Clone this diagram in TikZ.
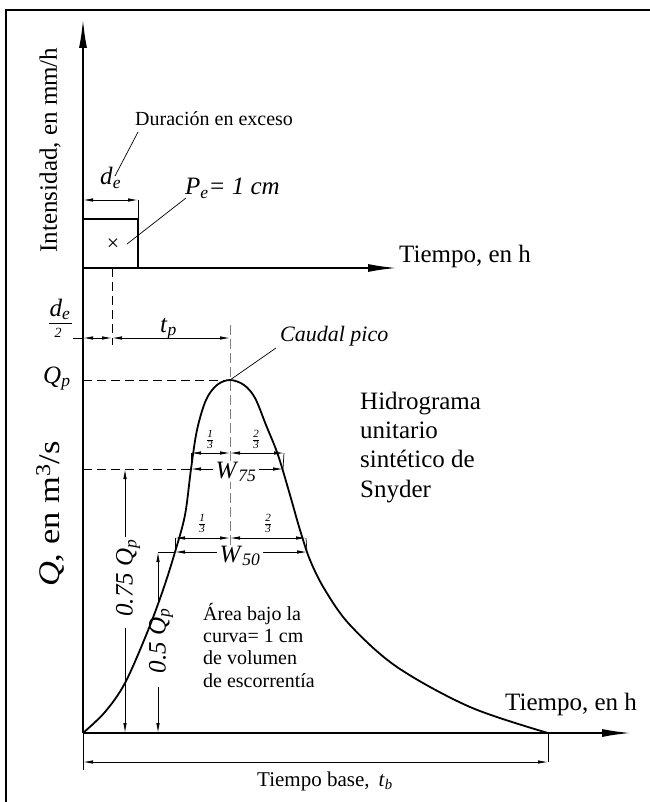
\documentclass[tikz,border=0pt]{standalone}
\usepackage{fontspec}
\setmainfont{Liberation Serif}
\usetikzlibrary{arrows.meta}
\newcommand{\myfr}[2]{\begin{tabular}{@{}c@{}}\textit{#1}\\[-1pt]\hline\noalign{\vskip 1pt}\textit{#2}\end{tabular}}
\tikzset{
  frameline/.style={line width=2.7pt},
  axisline/.style={line width=2.2pt, -{Latex[length=30pt,width=8pt]}},
  dimline/.style={line width=0.8pt, {Latex[length=10pt,width=3.5pt]}-{Latex[length=10pt,width=3.5pt]}},
  dimend/.style={line width=0.8pt, -{Latex[length=10pt,width=3.5pt]}},
  thinline/.style={line width=0.7pt},
  dashline/.style={line width=0.9pt, dash pattern=on 9pt off 5pt},
  centerline/.style={line width=1pt, gray, dash pattern=on 10pt off 4pt},
  curveline/.style={line width=1.8pt},
  bigtxt/.style={font=\fontsize{25}{30}\selectfont, inner sep=0pt},
  midtxt/.style={font=\fontsize{20}{23}\selectfont, inner sep=0pt},
  smalltxt/.style={font=\fontsize{11}{11}\selectfont, inner sep=0pt},
}
\begin{document}
\begin{tikzpicture}[x=1pt,y=-1pt]
\useasboundingbox (0,0) rectangle (649,802);
% frame
\coordinate (FBL) at (6,806);
\coordinate (FTL) at (6,10);
\coordinate (FTR) at (652,10);
\draw[frameline] (FBL) -- (FTL) -- (FTR);

% key coordinates
\coordinate (O) at (83,733);
\coordinate (Ytop) at (83,18);
\coordinate (T0) at (83,268);
\coordinate (Tend) at (398,268);
\coordinate (Bend) at (632,733);
\coordinate (Pk) at (230,380);

% rainfall block
\coordinate (B1) at (83,219);
\coordinate (B2) at (138,219);
\coordinate (B3) at (138,268);
\coordinate (B4) at (138,200);
\coordinate (D1) at (83,200);
\draw[line width=1.3pt] (B1) -- (B2) -- (B3);
\draw[thinline] (B2) -- (B4);
\draw[dimline] (D1) -- (B4);
\node[font=\fontsize{22}{22}\selectfont, inner sep=0pt] (xm) at (113,245) {×};

% axes
\draw[axisline] (O) -- (Ytop);
\draw[axisline] (T0) -- (Tend);
\draw[axisline] (O) -- (Bend);

% labels upper part
\node[bigtxt, rotate=90] (lint) at (50,150) {Intensidad, en mm/h};
\node[midtxt, anchor=base west] (ldur) at (135,126) {Duración en exceso};
\node[bigtxt, anchor=base west] (lde) at (100,185) {\textit{d}\textsubscript{\textit{e}}};
\node[bigtxt, anchor=base west] (lpe) at (185,195) {\textit{P}\textsubscript{\textit{e}}\textit{= 1 cm}};
\coordinate (L1a) at (138,132);
\coordinate (L1b) at (115,176);
\draw[thinline] (L1a) -- (L1b);
\coordinate (L2a) at (127,244);
\coordinate (L2b) at (186,198);
\draw[thinline] (L2a) -- (L2b);
\node[bigtxt, anchor=base west] (ltu) at (399,262) {Tiempo, en h};

% d_e/2 and t_p
\coordinate (V1) at (112,268);
\coordinate (V2) at (112,345);
\draw[dashline] (V1) -- (V2);
\coordinate (H0) at (73,338);
\coordinate (H1) at (83,338);
\coordinate (H2) at (112,338);
\coordinate (H3) at (230,338);
\draw[thinline] (H0) -- (H1);
\draw[dimline] (H1) -- (H2);
\draw[dimline] (H2) -- (H3);
\node[bigtxt, anchor=base] (lde2) at (60,316) {\textit{d}\textsubscript{\textit{e}}};
\coordinate (FB1) at (49,323);
\coordinate (FB2) at (72,323);
\draw[thinline] (FB1) -- (FB2);
\node[font=\fontsize{14}{14}\selectfont, inner sep=0pt, anchor=base] (l2) at (58,337) {\textit{2}};
\node[bigtxt, anchor=base west] (ltp) at (160,332) {\textit{t}\textsubscript{\textit{p}}};

% peak lines
\coordinate (Q0) at (83,380);
\draw[dashline] (Q0) -- (Pk);
\node[bigtxt, anchor=base west] (lqp) at (43,383) {\textit{Q}\textsubscript{\textit{p}}};
\coordinate (C1) at (230,325);
\coordinate (C2) at (230,545);
\draw[centerline] (C1) -- (C2);
\node[font=\fontsize{22}{22}\selectfont, inner sep=0pt, anchor=base west] (lcp) at (280,341) {\textit{Caudal pico}};
\coordinate (L3) at (276,348);
\draw[thinline] (Pk) -- (L3);

% hydrograph curve
\draw[curveline] plot[smooth, tension=0.55] coordinates {
 (83,733) (105,712) (125,683) (147,633) (163,590) (175,552) (185,515)
 (191,469) (197,430) (206,400) (217,385) (230,380) (244,385) (255,398)
 (266,425) (278,455) (290,495) (300,530) (310,560) (325,590) (350,625)
 (397,667) (470,707) (548,733)};

% W75
\coordinate (A0) at (83,469);
\coordinate (A1) at (191,469);
\coordinate (A2) at (283,469);
\draw[dashline] (A0) -- (A1);
\draw[dimline] (A1) -- (A2);
\coordinate (A3) at (191,453);
\coordinate (A4) at (230,453);
\coordinate (A5) at (284,453);
\draw[dimline] (A3) -- (A4);
\draw[dimline] (A4) -- (A5);
\draw[thinline] (A3) -- (A1);
\draw[thinline] (A5) -- (A2);
\node[bigtxt, fill=white, inner xsep=3pt] (lw75) at (236,472) {\textit{W}\textsubscript{\textit{75}}};
\node[smalltxt] (f1a) at (210,441) {\myfr{1}{3}};
\node[smalltxt] (f2a) at (256,441) {\myfr{2}{3}};

% W50
\coordinate (E0) at (158,552);
\coordinate (E1) at (175,552);
\coordinate (E2) at (307,552);
\draw[thinline] (E0) -- (E1);
\draw[dimline] (E1) -- (E2);
\coordinate (E3) at (175,538);
\coordinate (E4) at (230,538);
\coordinate (E5) at (306,538);
\draw[dimline] (E3) -- (E4);
\draw[dimline] (E4) -- (E5);
\draw[thinline] (E3) -- (E1);
\draw[thinline] (E5) -- (E2);
\node[bigtxt, fill=white, inner xsep=3pt] (lw50) at (240,556) {\textit{W}\textsubscript{\textit{50}}};
\node[smalltxt] (f1b) at (202,525) {\myfr{1}{3}};
\node[smalltxt] (f2b) at (268,525) {\myfr{2}{3}};

% 0.75 Qp
\coordinate (G1) at (125,469);
\coordinate (G2) at (125,537);
\coordinate (G3) at (125,628);
\coordinate (G4) at (125,733);
\draw[dimend] (G2) -- (G1);
\draw[dimend] (G3) -- (G4);
\node[bigtxt, rotate=90] (l075) at (128,578) {\textit{0.75 Q}\textsubscript{\textit{p}}};
% 0.5 Qp
\coordinate (K1) at (158,552);
\coordinate (K2) at (158,603);
\coordinate (K3) at (158,687);
\coordinate (K4) at (158,733);
\draw[dimend] (K2) -- (K1);
\draw[dimend] (K3) -- (K4);
\node[bigtxt, rotate=90] (l05) at (161,641) {\textit{0.5 Q}\textsubscript{\textit{p}}};

% area text (base = last line)
\node[font=\fontsize{20}{22.3}\selectfont, inner sep=0pt, anchor=base west, align=left] (larea) at (203,687) {Área bajo la\\curva= 1 cm\\de volumen\\de escorrentía};

% Snyder text (base = last line)
\node[font=\fontsize{25}{29.3}\selectfont, inner sep=0pt, anchor=base west, align=left] (lsny) at (360,497) {Hidrograma\\unitario\\sintético de\\Snyder};

% Q axis label
\node[rotate=90, inner sep=0pt, font=\fontsize{30}{30}\selectfont] (lq) at (50,514) {\scalebox{1.15}[1]{\textit{Q}, en m\textsuperscript{3}/s}};

% bottom axis label
\node[bigtxt, anchor=base west] (ltb) at (505,710) {Tiempo, en h};

% base time
\coordinate (M1) at (83,762);
\coordinate (M2) at (548,762);
\coordinate (M0) at (83,770);
\coordinate (N1) at (548,733);
\draw[thinline] (O) -- (M0);
\draw[thinline] (N1) -- (M2);
\draw[dimline] (M1) -- (M2);
\node[font=\fontsize{21}{21}\selectfont, inner sep=0pt, anchor=base west] (lbase) at (257,786) {Tiempo base,\hspace{9pt}\textit{t}\textsubscript{\textit{b}}};
\end{tikzpicture}
\end{document}
